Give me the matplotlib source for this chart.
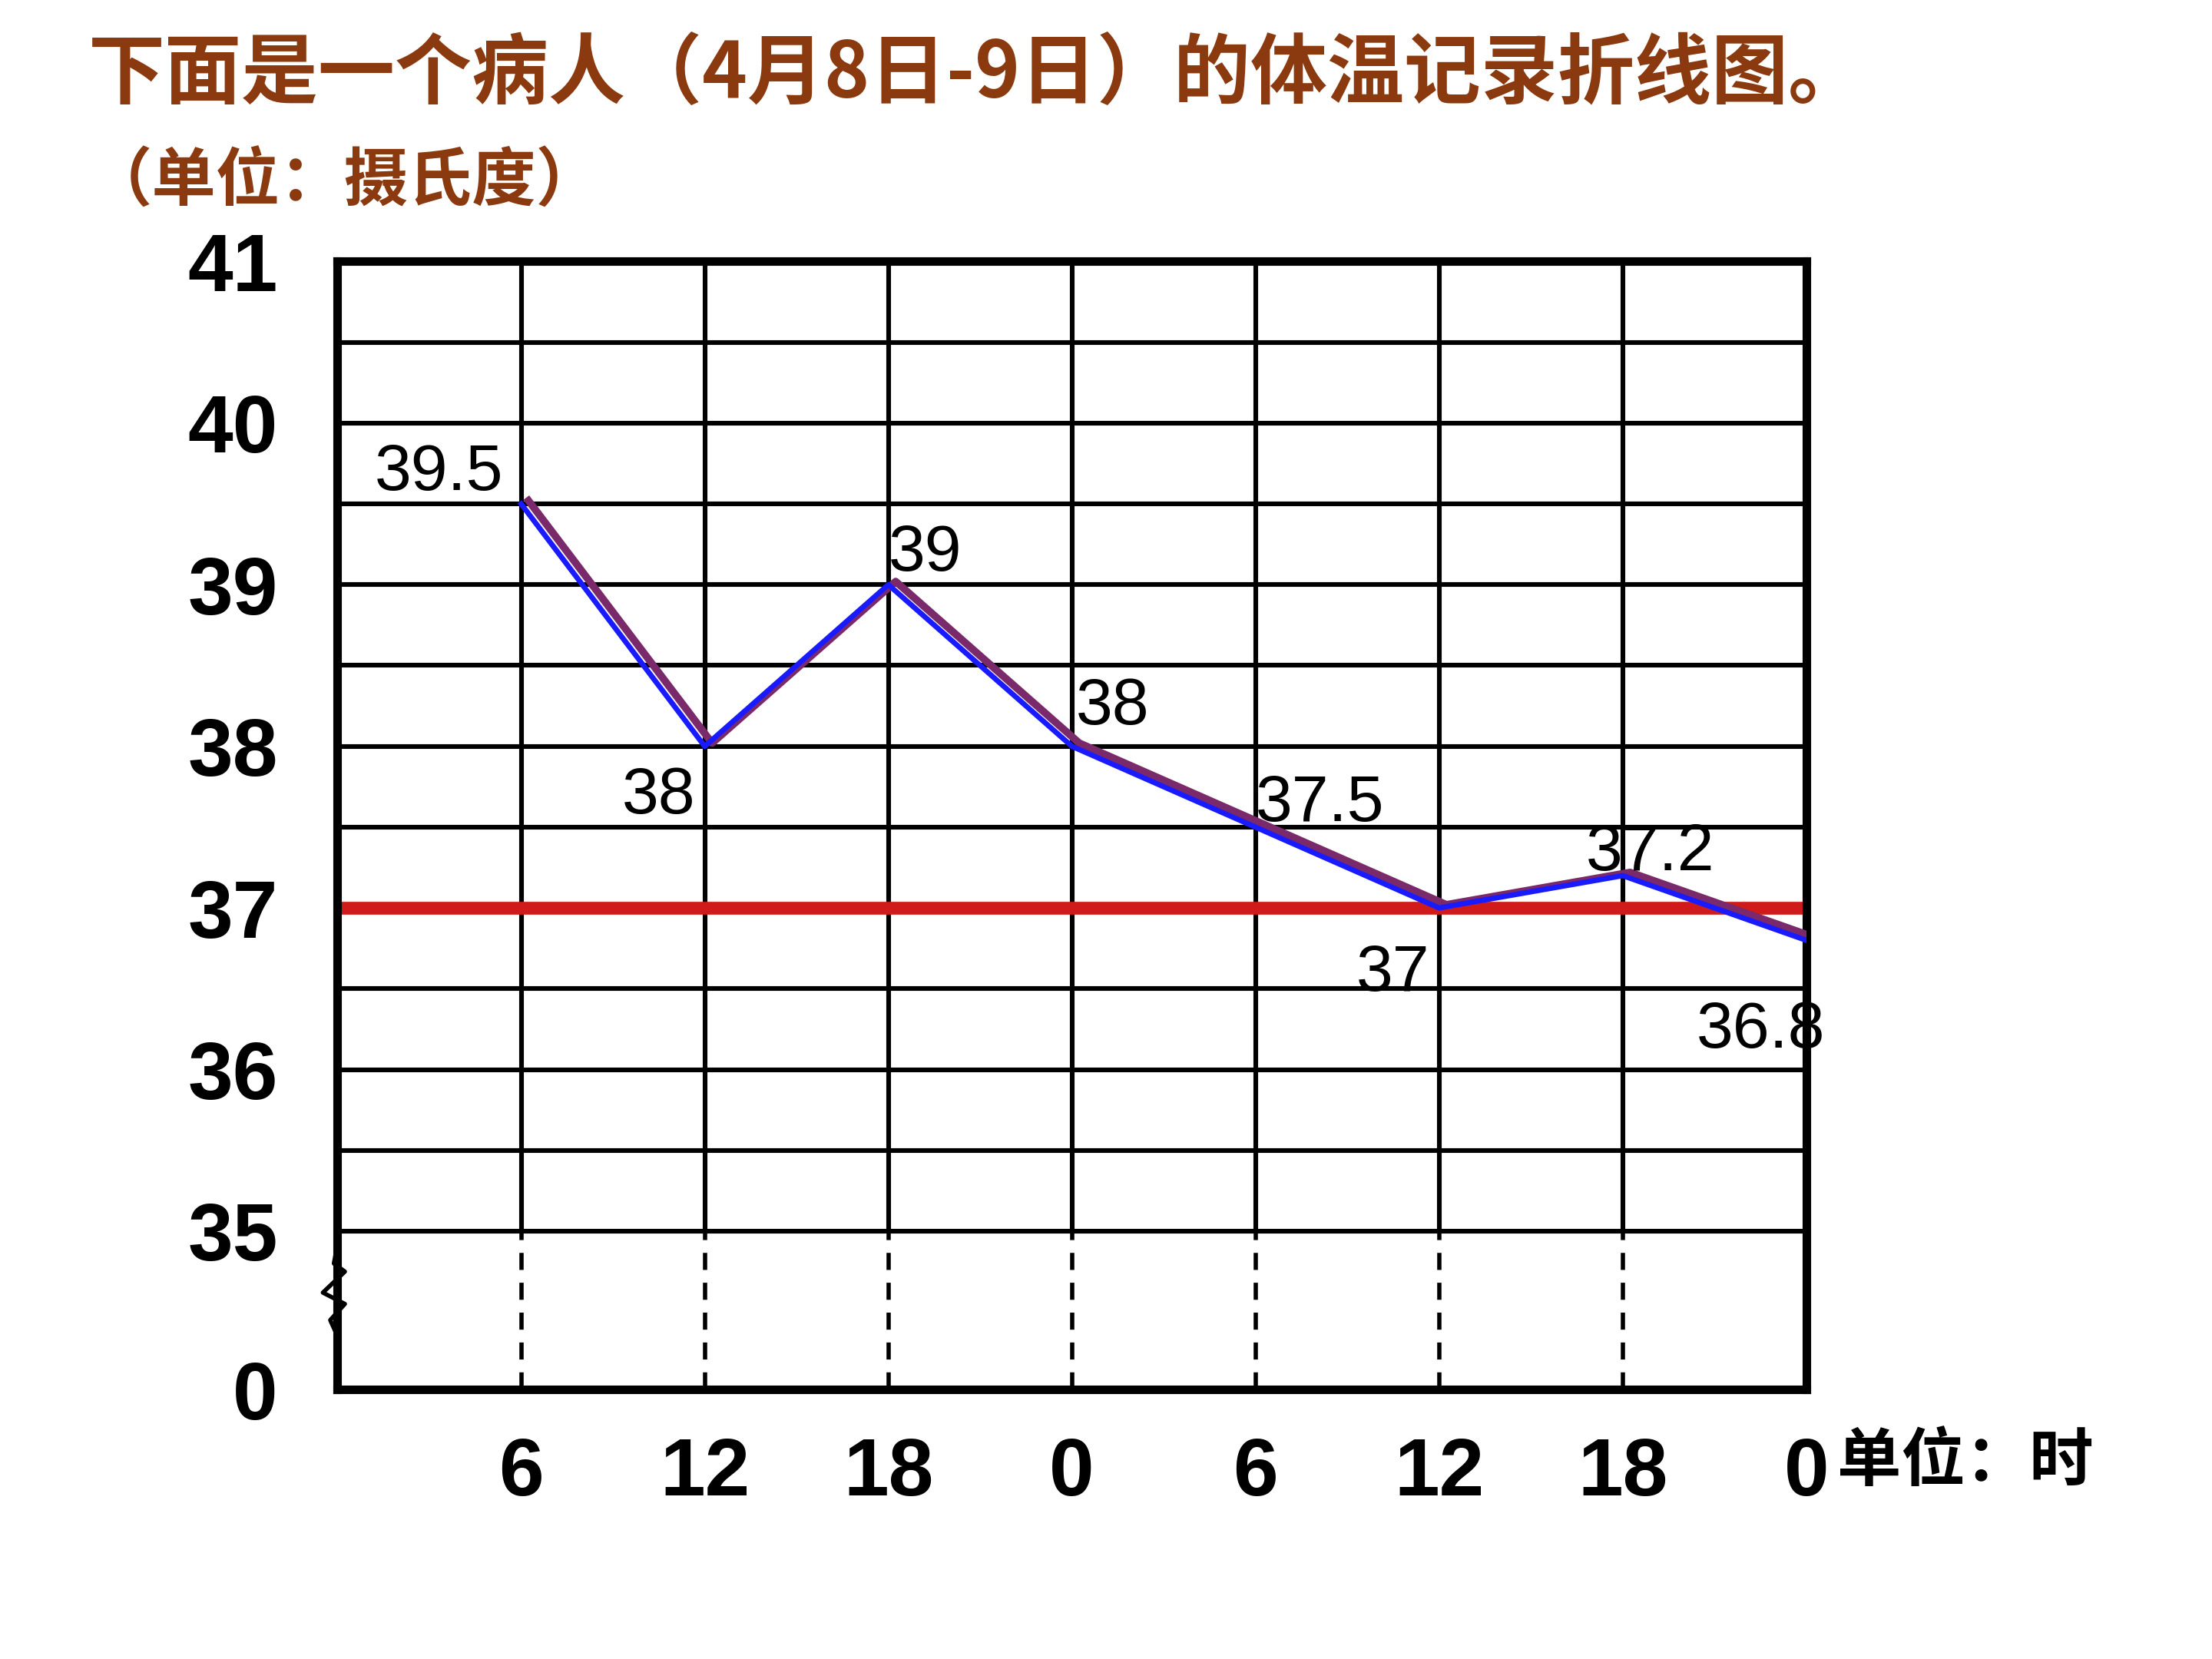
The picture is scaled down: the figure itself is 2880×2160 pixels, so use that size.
import matplotlib
matplotlib.use("Agg")
import matplotlib.pyplot as plt
import numpy as np

plt.rcParams['font.family'] = ['Noto Sans CJK SC', 'DejaVu Sans']

x_labels = ["6", "12", "18", "0", "6", "12", "18", "0"]
temps = [39.5, 38, 39, 38, 37.5, 37, 37.2, 36.8]
point_labels = ["39.5", "38", "39", "38", "37.5", "37", "37.2", "36.8"]
y_ticks = [35, 36, 37, 38, 39, 40, 41]
normal_temp = 37
title = "下面是一个病人（4月8日-9日）的体温记录折线图。"
subtitle = "（单位：摄氏度）"
x_unit = "单位：时"

fig = plt.figure(figsize=(14.4, 10.8), dpi=200)
ax = fig.add_axes([0.1526, 0.1624, 0.664, 0.680])
ymin = 34.02
ax.set_xlim(0, 8)
ax.set_ylim(ymin, 41)
xs = np.arange(1, 9)

for y in np.arange(35, 41.01, 0.5):
    ax.plot([0, 8], [y, y], color='black', lw=2.2, zorder=1)
for x in range(1, 8):
    ax.plot([x, x], [35, 41], color='black', lw=2.2, zorder=1)
    ax.plot([x, x], [ymin, 35], color='black', lw=2, ls=(0, (4, 3)), zorder=1)
for s in ax.spines.values():
    s.set_linewidth(4)

ax.axhline(normal_temp, color='#d11a1a', lw=6, zorder=2)
ax.plot(xs + 0.04, np.array(temps) + 0.02, color='#7a2a6a', lw=3.5, zorder=3)
ax.plot(xs, temps, color='#1a1aff', lw=2.5, zorder=4)

offsets = [(-0.8, 0.0), (-0.45, -0.5), (0.0, 0.0), (0.02, 0.05),
           (0.0, -0.05), (-0.45, -0.6), (-0.2, -0.05), (0.2, -0.75)]
for x, t, lab, (dx, dy) in zip(xs, temps, point_labels, offsets):
    if x == 8:
        x = 7.2
    ax.text(x + dx, t + dy, lab, fontsize=31, family='Liberation Sans',
            ha='left', va='bottom', zorder=5)

ax.set_xticks(xs)
ax.set_xticklabels(x_labels, fontsize=38, fontweight='bold', family='Liberation Sans')
ax.set_yticks(y_ticks + [ymin])
ax.set_yticklabels([str(v) for v in y_ticks] + ["0"], fontsize=38,
                   fontweight='bold', family='Liberation Sans')
ax.tick_params(length=0, pad=22)
ax.tick_params(axis='y', pad=28)

zx = [0.0, -0.02, 0.04, -0.08, 0.04, -0.04, 0.0]
zy = [34.92, 34.8, 34.75, 34.62, 34.55, 34.45, 34.35]
ax.plot(zx, zy, color='black', lw=2, clip_on=False)

ax.text(8.17, ymin - 0.45, x_unit, fontsize=30, fontweight='bold', va='center')
fig.text(0.04, 0.955, title, fontsize=36, fontweight='bold', color='#8b3a0f', va='center')
fig.text(0.04, 0.89, subtitle, fontsize=30, fontweight='bold', color='#8b3a0f', va='center')

fig.savefig("out.png", dpi=200, facecolor='white')
